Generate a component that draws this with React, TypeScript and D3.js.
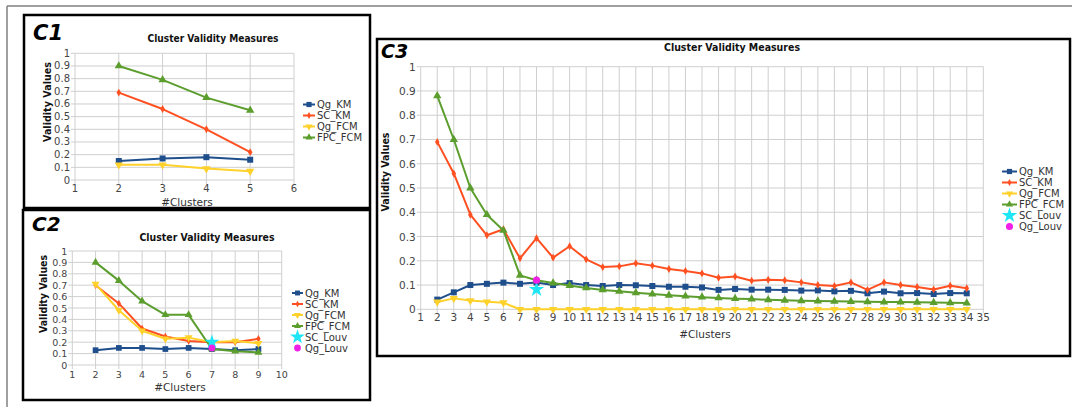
import React from "react";
import * as d3 from "d3";

// ---------- data ----------
const yTickValues = [0, 0.1, 0.2, 0.3, 0.4, 0.5, 0.6, 0.7, 0.8, 0.9, 1];
const yTickLabels = ["0", "0.1", "0.2", "0.3", "0.4", "0.5", "0.6", "0.7", "0.8", "0.9", "1"];
const seriesNames = ["Qg_KM", "SC_KM", "Qg_FCM", "FPC_FCM", "SC_Louv", "Qg_Louv"];

const c1AxisTicks = [1, 2, 3, 4, 5, 6];
const c1Clusters = [2, 3, 4, 5];
const c1QgKM = [0.15, 0.17, 0.18, 0.16];
const c1SCKM = [0.69, 0.56, 0.4, 0.22];
const c1QgFCM = [0.12, 0.12, 0.09, 0.07];
const c1FPCFCM = [0.9, 0.79, 0.65, 0.55];

const c2AxisTicks = [1, 2, 3, 4, 5, 6, 7, 8, 9, 10];
const c2Clusters = [2, 3, 4, 5, 6, 7, 8, 9];
const c2QgKM = [0.13, 0.15, 0.15, 0.14, 0.15, 0.14, 0.13, 0.14];
const c2SCKM = [0.7, 0.54, 0.32, 0.25, 0.21, 0.2, 0.2, 0.23];
const c2QgFCM = [0.71, 0.48, 0.3, 0.23, 0.24, 0.2, 0.21, 0.19];
const c2FPCFCM = [0.9, 0.74, 0.56, 0.44, 0.44, 0.14, 0.12, 0.11];
const c2LouvClusters = [7];
const c2SCLouv = [0.2];
const c2QgLouv = [0.15];

const c3AxisTicks = [1, 2, 3, 4, 5, 6, 7, 8, 9, 10, 11, 12, 13, 14, 15, 16, 17, 18, 19, 20, 21, 22, 23, 24, 25, 26, 27, 28, 29, 30, 31, 32, 33, 34, 35];
const c3Clusters = [2, 3, 4, 5, 6, 7, 8, 9, 10, 11, 12, 13, 14, 15, 16, 17, 18, 19, 20, 21, 22, 23, 24, 25, 26, 27, 28, 29, 30, 31, 32, 33, 34];
const c3QgKM = [0.04, 0.07, 0.1, 0.105, 0.11, 0.105, 0.11, 0.1, 0.108, 0.1, 0.096, 0.1, 0.099, 0.096, 0.093, 0.093, 0.09, 0.08, 0.084, 0.081, 0.081, 0.08, 0.077, 0.078, 0.074, 0.076, 0.066, 0.073, 0.066, 0.067, 0.063, 0.067, 0.066];
const c3SCKM = [0.69, 0.56, 0.39, 0.305, 0.33, 0.21, 0.293, 0.213, 0.26, 0.206, 0.174, 0.177, 0.19, 0.18, 0.166, 0.158, 0.148, 0.13, 0.135, 0.118, 0.122, 0.12, 0.111, 0.1, 0.096, 0.111, 0.08, 0.111, 0.1, 0.092, 0.082, 0.097, 0.087];
const c3QgFCM = [0.03, 0.045, 0.036, 0.031, 0.027, 0, 0, 0, 0, 0, 0, 0, 0, 0, 0, 0, 0, 0, 0, 0, 0, 0, 0, 0, 0, 0, 0, 0, 0, 0, 0, 0, 0];
const c3FPCFCM = [0.88, 0.7, 0.5, 0.39, 0.325, 0.14, 0.12, 0.108, 0.098, 0.088, 0.08, 0.074, 0.068, 0.063, 0.058, 0.054, 0.05, 0.047, 0.044, 0.042, 0.039, 0.037, 0.035, 0.034, 0.033, 0.032, 0.031, 0.03, 0.03, 0.029, 0.028, 0.027, 0.026];
const c3LouvClusters = [8];
const c3SCLouv = [0.082];
const c3QgLouv = [0.12];

const chartTitle = "Cluster Validity Measures";
const xTitle = "#Clusters";
const yTitle = "Validity Values";

// ---------- styles ----------
const FONT = "'DejaVu Sans', sans-serif";
const COLORS: Record<string, string> = {
  Qg_KM: "#1f4e8c",
  SC_KM: "#ff5021",
  Qg_FCM: "#ffd12b",
  FPC_FCM: "#5c9e2e",
  SC_Louv: "#1ee6f5",
  Qg_Louv: "#f020e6",
};

type MarkerKind = "square" | "diamond" | "down" | "up" | "star" | "circle";
const MARKERS: Record<string, MarkerKind> = {
  Qg_KM: "square",
  SC_KM: "diamond",
  Qg_FCM: "down",
  FPC_FCM: "up",
  SC_Louv: "star",
  Qg_Louv: "circle",
};

function markerPath(kind: MarkerKind, scale: number) {
  const s = scale;
  switch (kind) {
    case "square":
      return d3.symbol().type(d3.symbolSquare).size(36 * s)()!;
    case "diamond":
      return d3.symbol().type(d3.symbolDiamond).size(18 * s)()!;
    case "down":
    case "up":
      return d3.symbol().type(d3.symbolTriangle).size(30 * s)()!;
    case "star":
      return d3.symbol().type(d3.symbolStar).size(75 * s)()!;
    case "circle":
      return d3.symbol().type(d3.symbolCircle).size(40 * s)()!;
  }
}

function Marker({ kind, x, y, color, scale }: { kind: MarkerKind; x: number; y: number; color: string; scale: number }) {
  const rot = kind === "down" ? 180 : 0;
  return <path d={markerPath(kind, scale)} transform={`translate(${x},${y}) rotate(${rot})`} fill={color} />;
}

type Series = { name: string; xs: number[]; values: number[]; line: boolean };

type PanelCfg = {
  label: string;
  box: [number, number, number, number];
  xTicks: number[];
  xRange: [number, number];
  yRange: [number, number];
  titlePos: [number, number];
  titleLen: number;
  titleSize: number;
  labelPos: [number, number];
  labelSize: number;
  yTitlePos: [number, number];
  yTitleLen: number;
  yTitleSize: number;
  xTitlePos: [number, number];
  xTitleSize: number;
  tickSize: number;
  xTickY: number;
  legendLine: [number, number];
  legendTextX: number;
  legendY0: number;
  legendStep: number;
  legendSize: number;
  markerScale: number;
  lineWidth: number;
  series: Series[];
};

function Panel({ cfg }: { cfg: PanelCfg }) {
  const x = d3.scaleLinear().domain([cfg.xTicks[0], cfg.xTicks[cfg.xTicks.length - 1]]).range(cfg.xRange);
  const y = d3.scaleLinear().domain([0, 1]).range(cfg.yRange);
  const line = d3
    .line<[number, number]>()
    .x((d) => x(d[0]))
    .y((d) => y(d[1]));
  const [bx, by, bw, bh] = cfg.box;
  const [x0, x1] = cfg.xRange;
  const [y0, y1] = cfg.yRange;
  return (
    <g>
      <rect x={bx} y={by} width={bw} height={bh} fill="none" stroke="#000" strokeWidth={2.5} />
      {/* grid */}
      {yTickValues.map((v) => (
        <line key={"h" + v} x1={x0 - 4} x2={x1} y1={y(v)} y2={y(v)} stroke="#cfcfcf" strokeWidth={1} />
      ))}
      {cfg.xTicks.map((t) => (
        <line key={"v" + t} x1={x(t)} x2={x(t)} y1={y1} y2={y0 + 4} stroke="#cfcfcf" strokeWidth={1} />
      ))}
      {/* tick labels */}
      {yTickValues.map((v, i) => (
        <text key={"yl" + v} x={x0 - 5} y={y(v)} textAnchor="end" dominantBaseline="central" fontFamily={FONT} fontSize={cfg.tickSize} fill="#444">
          {yTickLabels[i]}
        </text>
      ))}
      {cfg.xTicks.map((t) => (
        <text key={"xl" + t} x={x(t)} y={cfg.xTickY} textAnchor="middle" dominantBaseline="central" fontFamily={FONT} fontSize={cfg.tickSize} fill="#444">
          {String(t)}
        </text>
      ))}
      {/* titles */}
      <text x={cfg.titlePos[0]} y={cfg.titlePos[1]} textAnchor="middle" dominantBaseline="central" fontFamily={FONT} fontWeight="bold" fontSize={cfg.titleSize} textLength={cfg.titleLen} lengthAdjust="spacingAndGlyphs" fill="#111">
        {chartTitle}
      </text>
      <text x={cfg.labelPos[0]} y={cfg.labelPos[1]} fontFamily={FONT} fontWeight="bold" fontStyle="italic" fontSize={cfg.labelSize} fill="#000">
        {cfg.label}
      </text>
      <text transform={`translate(${cfg.yTitlePos[0]},${cfg.yTitlePos[1]}) rotate(-90)`} textAnchor="middle" dominantBaseline="central" fontFamily={FONT} fontWeight="bold" fontSize={cfg.yTitleSize} textLength={cfg.yTitleLen} lengthAdjust="spacingAndGlyphs" fill="#111">
        {yTitle}
      </text>
      <text x={cfg.xTitlePos[0]} y={cfg.xTitlePos[1]} textAnchor="middle" dominantBaseline="central" fontFamily={FONT} fontSize={cfg.xTitleSize} fill="#333">
        {xTitle}
      </text>
      {/* series */}
      {cfg.series.map((s) => {
        const pts: [number, number][] = s.xs.map((c, i) => [c, s.values[i]]);
        return (
          <g key={s.name}>
            {s.line && <path d={line(pts)!} fill="none" stroke={COLORS[s.name]} strokeWidth={cfg.lineWidth} strokeLinejoin="round" />}
            {pts.map((p, i) => (
              <Marker key={i} kind={MARKERS[s.name]} x={x(p[0])} y={y(p[1])} color={COLORS[s.name]} scale={cfg.markerScale} />
            ))}
          </g>
        );
      })}
      {/* legend */}
      {cfg.series.map((s, i) => {
        const ly = cfg.legendY0 + i * cfg.legendStep;
        const mx = (cfg.legendLine[0] + cfg.legendLine[1]) / 2;
        return (
          <g key={"lg" + s.name}>
            {s.line && <line x1={cfg.legendLine[0]} x2={cfg.legendLine[1]} y1={ly} y2={ly} stroke={COLORS[s.name]} strokeWidth={2} />}
            <Marker kind={MARKERS[s.name]} x={mx} y={ly} color={COLORS[s.name]} scale={s.line ? cfg.markerScale * 0.75 : cfg.markerScale} />
            <text x={cfg.legendTextX} y={ly} dominantBaseline="central" fontFamily={FONT} fontSize={cfg.legendSize} fill="#333">
              {s.name}
            </text>
          </g>
        );
      })}
    </g>
  );
}

const c1Series: Series[] = [
  { name: seriesNames[0], xs: c1Clusters, values: c1QgKM, line: true },
  { name: seriesNames[1], xs: c1Clusters, values: c1SCKM, line: true },
  { name: seriesNames[2], xs: c1Clusters, values: c1QgFCM, line: true },
  { name: seriesNames[3], xs: c1Clusters, values: c1FPCFCM, line: true },
];
const c2Series: Series[] = [
  { name: seriesNames[0], xs: c2Clusters, values: c2QgKM, line: true },
  { name: seriesNames[1], xs: c2Clusters, values: c2SCKM, line: true },
  { name: seriesNames[2], xs: c2Clusters, values: c2QgFCM, line: true },
  { name: seriesNames[3], xs: c2Clusters, values: c2FPCFCM, line: true },
  { name: seriesNames[4], xs: c2LouvClusters, values: c2SCLouv, line: false },
  { name: seriesNames[5], xs: c2LouvClusters, values: c2QgLouv, line: false },
];
const c3Series: Series[] = [
  { name: seriesNames[0], xs: c3Clusters, values: c3QgKM, line: true },
  { name: seriesNames[1], xs: c3Clusters, values: c3SCKM, line: true },
  { name: seriesNames[2], xs: c3Clusters, values: c3QgFCM, line: true },
  { name: seriesNames[3], xs: c3Clusters, values: c3FPCFCM, line: true },
  { name: seriesNames[4], xs: c3LouvClusters, values: c3SCLouv, line: false },
  { name: seriesNames[5], xs: c3LouvClusters, values: c3QgLouv, line: false },
];

const panels: PanelCfg[] = [
  {
    label: "C1",
    box: [24, 15, 346, 193],
    xTicks: c1AxisTicks,
    xRange: [75, 294],
    yRange: [180, 53.3],
    titlePos: [213, 38],
    titleLen: 131,
    titleSize: 10,
    labelPos: [33, 40],
    labelSize: 21,
    yTitlePos: [47, 102],
    yTitleLen: 80,
    yTitleSize: 10,
    xTitlePos: [187, 202],
    xTitleSize: 10.5,
    tickSize: 10,
    xTickY: 188,
    legendLine: [303, 315],
    legendTextX: 317,
    legendY0: 104.5,
    legendStep: 11,
    legendSize: 10,
    markerScale: 1,
    lineWidth: 2,
    series: c1Series,
  },
  {
    label: "C2",
    box: [23, 210, 347, 190],
    xTicks: c2AxisTicks,
    xRange: [72.3, 281.7],
    yRange: [365, 251],
    titlePos: [207, 237],
    titleLen: 135,
    titleSize: 10,
    labelPos: [32, 231],
    labelSize: 20,
    yTitlePos: [43, 294],
    yTitleLen: 78,
    yTitleSize: 10,
    xTitlePos: [180, 387],
    xTitleSize: 10.5,
    tickSize: 9.5,
    xTickY: 374,
    legendLine: [292, 303],
    legendTextX: 305,
    legendY0: 293,
    legendStep: 11,
    legendSize: 10,
    markerScale: 0.9,
    lineWidth: 2,
    series: c2Series,
  },
  {
    label: "C3",
    box: [377, 39, 693, 317],
    xTicks: c3AxisTicks,
    xRange: [420.7, 983.3],
    yRange: [309.3, 66.7],
    titlePos: [732, 47],
    titleLen: 136,
    titleSize: 10,
    labelPos: [381, 58],
    labelSize: 19,
    yTitlePos: [385, 172],
    yTitleLen: 79,
    yTitleSize: 10,
    xTitlePos: [705, 334],
    xTitleSize: 10.5,
    tickSize: 10.5,
    xTickY: 317,
    legendLine: [1002, 1017],
    legendTextX: 1019,
    legendY0: 171.5,
    legendStep: 11,
    legendSize: 10,
    markerScale: 1,
    lineWidth: 2,
    series: c3Series,
  },
];

export default function App() {
  return (
    <svg width={1072} height={407} style={{ position: "absolute", left: 0, top: 0, background: "#fff" }}>
      <rect x={0} y={0} width={1072} height={407} fill="#fff" />
      {/* outer frame */}
      <line x1={7} x2={1072} y1={6} y2={6} stroke="#808080" strokeWidth={1.5} />
      <line x1={7} x2={7} y1={6} y2={407} stroke="#808080" strokeWidth={1.5} />
      {panels.map((p) => (
        <Panel key={p.label} cfg={p} />
      ))}
    </svg>
  );
}
